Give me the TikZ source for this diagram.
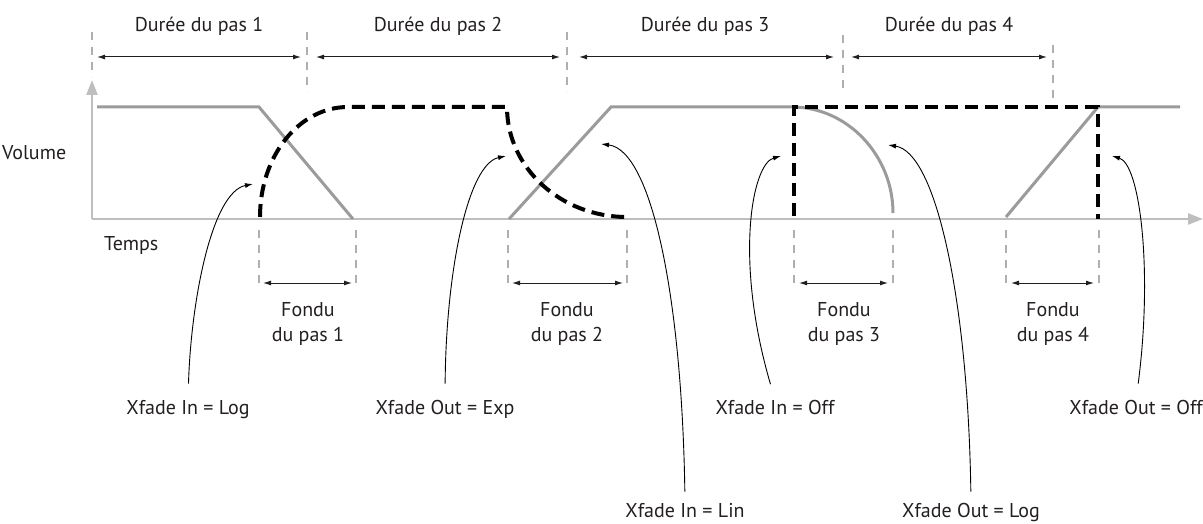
\documentclass[tikz,border=0pt]{standalone}
\usepackage{fontspec}
\setmainfont{PT Sans}
\usepackage{tikz}
\usetikzlibrary{positioning,calc}
\usetikzlibrary{arrows.meta}
\definecolor{CurveGray}{RGB}{155,155,155}
\definecolor{AxisGray}{RGB}{190,190,190}
\definecolor{GuideGray}{RGB}{175,175,175}
\definecolor{InkBlack}{RGB}{35,31,32}
\newcommand{\lblfont}{\fontsize{20}{25}\selectfont}
\tikzset{txt/.style={font=\lblfont,text=InkBlack,inner sep=0pt,anchor=base}, fade/.style={draw=CurveGray,line width=3pt}, xfade/.style={draw=black,line width=4pt,dash pattern=on 13pt off 7pt}, guide/.style={draw=GuideGray,line width=1.2pt,dash pattern=on 8pt off 7pt}, span/.style={draw=InkBlack,line width=1pt,{Latex[length=8pt,width=5pt]}-{Latex[length=8pt,width=5pt]}}, pointer/.style={draw=black,line width=0.9pt,-{Latex[length=8pt,width=5pt]},shorten <=16pt}}

\begin{document}
\begin{tikzpicture}[x=1pt,y=-1pt]
\useasboundingbox (0,0) rectangle (1203,524);
\coordinate (org) at (92,219);
\coordinate (ytop) at (92,80);
\coordinate (xend) at (1203,219);
% axes
\draw[draw=AxisGray,line width=2.6pt,-{Triangle[length=15pt,width=11pt]}] (org) -- (ytop);
\draw[draw=AxisGray,line width=2.6pt,-{Triangle[length=15pt,width=11pt]}] (org) -- (xend);
% step boundaries
\draw[guide] (92,32) -- (92,77);
\draw[guide] (307,32) -- (307,92);
\draw[guide] (567,32) -- (567,92);
\draw[guide] (843,35) -- (843,92);
\draw[guide] (1053,45) -- (1053,102);
\foreach \gx in {259,356,508,627,794,893,1006,1099}
  \draw[guide] (\gx,230) -- (\gx,288);
% step durations
\coordinate (da) at (97,57);
\coordinate (db) at (301,57);
\coordinate (dc) at (316,57);
\coordinate (dd) at (560,57);
\coordinate (de) at (579,57);
\coordinate (df) at (834,57);
\coordinate (dg) at (851,57);
\coordinate (dh) at (1047,57);
\draw[span] (da) -- (db);
\draw[span] (dc) -- (dd);
\draw[span] (de) -- (df);
\draw[span] (dg) -- (dh);
\node[txt] (dur1) at (199,32) {Durée du pas 1};
\node[txt] (dur2) at (438,32) {Durée du pas 2};
\node[txt] (dur3) at (705,32) {Durée du pas 3};
\node[txt] (dur4) at (949,32) {Durée du pas 4};
% fade lengths
\coordinate (fa) at (263,283);
\coordinate (fb) at (352,283);
\coordinate (fc) at (512,283);
\coordinate (fd) at (623,283);
\coordinate (fe) at (799,283);
\coordinate (ff) at (888,283);
\coordinate (fg) at (1011,283);
\coordinate (fh) at (1094,283);
\draw[span] (fa) -- (fb);
\draw[span] (fc) -- (fd);
\draw[span] (fe) -- (ff);
\draw[span] (fg) -- (fh);
\node[txt,align=center,anchor=north] (fnd1) at (308,302) {Fondu\\du pas 1};
\node[txt,align=center,anchor=north] (fnd2) at (567,302) {Fondu\\du pas 2};
\node[txt,align=center,anchor=north] (fnd3) at (844,302) {Fondu\\du pas 3};
\node[txt,align=center,anchor=north] (fnd4) at (1053,302) {Fondu\\du pas 4};
\node[txt,anchor=base west] (vol) at (2,160) {Volume};
\node[txt,anchor=base west] (tps) at (104,251) {Temps};
% volume curves
\draw[fade] (97,107) -- (259,107) -- (353,219);
\draw[fade] (509,219) -- (611,107) -- (792,107) .. controls (848,107) and (893,156) .. (893,213);
\draw[fade] (1006,217) -- (1098,107) -- (1180,107);
\draw[xfade] (260,217) .. controls (260,156) and (299,107) .. (348,107) -- (507,107) .. controls (507,168) and (561,217) .. (627,217);
\draw[xfade] (794,216) -- (794,107) -- (1098,107) -- (1098,219);
% curve labels
\coordinate (tinlog) at (253,184);
\coordinate (toutexp) at (506,156);
\coordinate (tinlin) at (601,144);
\coordinate (tinoff) at (781,156);
\coordinate (toutlog) at (888,145);
\coordinate (toutoff) at (1112,156);
\node[txt] (inlog) at (188,414) {Xfade In = Log};
\node[txt] (outexp) at (445,414) {Xfade Out = Exp};
\node[txt] (inlin) at (685,517) {Xfade In = Lin};
\node[txt] (inoff) at (775,414) {Xfade In = Off};
\node[txt] (outlog) at (971,517) {Xfade Out = Log};
\node[txt,anchor=base east] (outoff) at (1203,414) {Xfade Out = Off};
\draw[pointer] (inlog.north) .. controls (191,300) and (212,192) .. (tinlog);
\draw[pointer] (outexp.north) .. controls (446,270) and (468,164) .. (toutexp);
\draw[pointer,shorten <=11pt] (inlin.north) .. controls (682,300) and (652,150) .. (tinlin);
\draw[pointer] (inoff.north) .. controls (734,260) and (752,164) .. (tinoff);
\draw[pointer,shorten <=11pt] (outlog.north) .. controls (968,300) and (936,152) .. (toutlog);
\draw[pointer] (outoff.north) .. controls (1153,270) and (1140,164) .. (toutoff);
\end{tikzpicture}
\end{document}
